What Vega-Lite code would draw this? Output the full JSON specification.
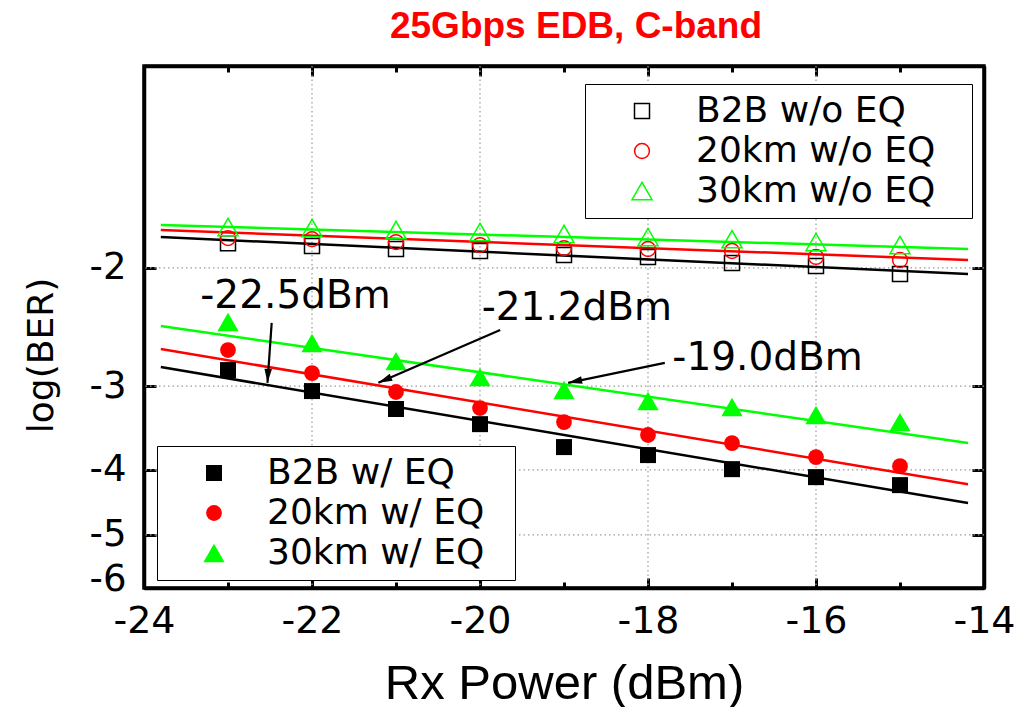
{
  "$schema": "https://vega.github.io/schema/vega-lite/v6.json",
  "width": 840,
  "height": 522,
  "autosize": {"type": "none"},
  "padding": {"left": 144, "top": 66, "right": 38, "bottom": 119},
  "background": "white",
  "title": {"text": "25Gbps EDB, C-band", "font": "Liberation Sans", "fontSize": 37, "fontWeight": "bold", "color": "#ff0000", "baseline": "alphabetic", "offset": -10, "dx": 12, "anchor": "middle", "frame": "group"},
  "config": {
    "view": {"stroke": "black", "strokeWidth": 3.5},
    "axis": {"labelColor": "black", "titleColor": "black", "tickColor": "black", "domainColor": "black"}
  },
  "datasets": {
    "without_eq": [
      {"power": -23, "neg_log_ber": 1.837, "series": "B2B w/o EQ"},
      {"power": -22, "neg_log_ber": 1.855, "series": "B2B w/o EQ"},
      {"power": -21, "neg_log_ber": 1.874, "series": "B2B w/o EQ"},
      {"power": -20, "neg_log_ber": 1.887, "series": "B2B w/o EQ"},
      {"power": -19, "neg_log_ber": 1.913, "series": "B2B w/o EQ"},
      {"power": -18, "neg_log_ber": 1.926, "series": "B2B w/o EQ"},
      {"power": -17, "neg_log_ber": 1.966, "series": "B2B w/o EQ"},
      {"power": -16, "neg_log_ber": 1.987, "series": "B2B w/o EQ"},
      {"power": -15, "neg_log_ber": 2.042, "series": "B2B w/o EQ"},
      {"power": -23, "neg_log_ber": 1.805, "series": "20km w/o EQ"},
      {"power": -22, "neg_log_ber": 1.812, "series": "20km w/o EQ"},
      {"power": -21, "neg_log_ber": 1.830, "series": "20km w/o EQ"},
      {"power": -20, "neg_log_ber": 1.849, "series": "20km w/o EQ"},
      {"power": -19, "neg_log_ber": 1.868, "series": "20km w/o EQ"},
      {"power": -18, "neg_log_ber": 1.874, "series": "20km w/o EQ"},
      {"power": -17, "neg_log_ber": 1.887, "series": "20km w/o EQ"},
      {"power": -16, "neg_log_ber": 1.926, "series": "20km w/o EQ"},
      {"power": -15, "neg_log_ber": 1.946, "series": "20km w/o EQ"},
      {"power": -23, "neg_log_ber": 1.738, "series": "30km w/o EQ"},
      {"power": -22, "neg_log_ber": 1.744, "series": "30km w/o EQ"},
      {"power": -21, "neg_log_ber": 1.756, "series": "30km w/o EQ"},
      {"power": -20, "neg_log_ber": 1.768, "series": "30km w/o EQ"},
      {"power": -19, "neg_log_ber": 1.780, "series": "30km w/o EQ"},
      {"power": -18, "neg_log_ber": 1.799, "series": "30km w/o EQ"},
      {"power": -17, "neg_log_ber": 1.812, "series": "30km w/o EQ"},
      {"power": -16, "neg_log_ber": 1.830, "series": "30km w/o EQ"},
      {"power": -15, "neg_log_ber": 1.849, "series": "30km w/o EQ"}
    ],
    "with_eq": [
      {"power": -23, "neg_log_ber": 2.840, "series": "B2B w/ EQ"},
      {"power": -22, "neg_log_ber": 3.052, "series": "B2B w/ EQ"},
      {"power": -21, "neg_log_ber": 3.246, "series": "B2B w/ EQ"},
      {"power": -20, "neg_log_ber": 3.419, "series": "B2B w/ EQ"},
      {"power": -19, "neg_log_ber": 3.699, "series": "B2B w/ EQ"},
      {"power": -18, "neg_log_ber": 3.802, "series": "B2B w/ EQ"},
      {"power": -17, "neg_log_ber": 3.990, "series": "B2B w/ EQ"},
      {"power": -16, "neg_log_ber": 4.101, "series": "B2B w/ EQ"},
      {"power": -15, "neg_log_ber": 4.215, "series": "B2B w/ EQ"},
      {"power": -23, "neg_log_ber": 2.651, "series": "20km w/ EQ"},
      {"power": -22, "neg_log_ber": 2.869, "series": "20km w/ EQ"},
      {"power": -21, "neg_log_ber": 3.062, "series": "20km w/ EQ"},
      {"power": -20, "neg_log_ber": 3.235, "series": "20km w/ EQ"},
      {"power": -19, "neg_log_ber": 3.395, "series": "20km w/ EQ"},
      {"power": -18, "neg_log_ber": 3.549, "series": "20km w/ EQ"},
      {"power": -17, "neg_log_ber": 3.648, "series": "20km w/ EQ"},
      {"power": -16, "neg_log_ber": 3.828, "series": "20km w/ EQ"},
      {"power": -15, "neg_log_ber": 3.949, "series": "20km w/ EQ"},
      {"power": -23, "neg_log_ber": 2.408, "series": "30km w/ EQ"},
      {"power": -22, "neg_log_ber": 2.588, "series": "30km w/ EQ"},
      {"power": -21, "neg_log_ber": 2.754, "series": "30km w/ EQ"},
      {"power": -20, "neg_log_ber": 2.909, "series": "30km w/ EQ"},
      {"power": -19, "neg_log_ber": 3.041, "series": "30km w/ EQ"},
      {"power": -18, "neg_log_ber": 3.158, "series": "30km w/ EQ"},
      {"power": -17, "neg_log_ber": 3.224, "series": "30km w/ EQ"},
      {"power": -16, "neg_log_ber": 3.313, "series": "30km w/ EQ"},
      {"power": -15, "neg_log_ber": 3.395, "series": "30km w/ EQ"}
    ],
    "fits": [
      {"power": -23.8, "neg_log_ber": 1.799, "series": "B2B w/o EQ"},
      {"power": -14.19, "neg_log_ber": 2.042, "series": "B2B w/o EQ"},
      {"power": -23.8, "neg_log_ber": 1.756, "series": "20km w/o EQ"},
      {"power": -14.19, "neg_log_ber": 1.946, "series": "20km w/o EQ"},
      {"power": -23.8, "neg_log_ber": 1.726, "series": "30km w/o EQ"},
      {"power": -14.19, "neg_log_ber": 1.874, "series": "30km w/o EQ"},
      {"power": -23.8, "neg_log_ber": 2.811, "series": "B2B w/ EQ"},
      {"power": -14.19, "neg_log_ber": 4.482, "series": "B2B w/ EQ"},
      {"power": -23.8, "neg_log_ber": 2.642, "series": "20km w/ EQ"},
      {"power": -14.19, "neg_log_ber": 4.201, "series": "20km w/ EQ"},
      {"power": -23.8, "neg_log_ber": 2.441, "series": "30km w/ EQ"},
      {"power": -14.19, "neg_log_ber": 3.648, "series": "30km w/ EQ"}
    ],
    "arrows": [
      {"label": "-22.5dBm", "x_start": -22.48, "y_start": 2.415, "x_end": -22.53, "y_end": 2.967},
      {"label": "-21.2dBm", "x_start": -19.76, "y_start": 2.474, "x_end": -21.21, "y_end": 2.967},
      {"label": "-19.0dBm", "x_start": -17.80, "y_start": 2.77, "x_end": -18.95, "y_end": 2.967}
    ],
    "notes": [
      {"text": "-22.5dBm", "power": -23.33, "neg_log_ber": 2.296},
      {"text": "-21.2dBm", "power": -19.98, "neg_log_ber": 2.391},
      {"text": "-19.0dBm", "power": -17.71, "neg_log_ber": 2.840}
    ],
    "x_grid": [{"power": -22}, {"power": -20}, {"power": -18}, {"power": -16}],
    "y_grid": [{"neg_log_ber": 2}, {"neg_log_ber": 3}, {"neg_log_ber": 4}, {"neg_log_ber": 5}]
  },
  "layer": [
    {
      "data": {"name": "fits"},
      "mark": {"type": "point", "opacity": 0},
      "encoding": {
        "x": {"field": "power", "type": "quantitative", "scale": {"domain": [-24, -14], "nice": false, "zero": false},
          "axis": {"orient": "bottom", "values": [-24, -23, -22, -21, -20, -19, -18, -17, -16, -15, -14], "labelExpr": "datum.value % 2 === 0 ? '-' + abs(datum.value) : ''", "labels": true, "labelFlush": false, "labelFont": "DejaVu Sans", "labelFontSize": 38, "labelBaseline": "alphabetic", "labelPadding": 54, "ticks": true, "tickSize": {"condition": {"test": "datum.value % 2 === 0", "value": -10}, "value": -6}, "tickWidth": 3, "domain": true, "domainWidth": 3.5, "grid": false, "title": "Rx Power (dBm)", "titleFont": "Liberation Sans", "titleFontSize": 49, "titleFontWeight": "normal", "titleBaseline": "alphabetic", "titleY": 110}},
        "y": {"field": "neg_log_ber", "type": "quantitative", "scale": {"type": "log", "domain": [1, 6], "nice": false, "reverse": true},
          "axis": {"orient": "left", "values": [2, 3, 4, 5, 6], "labelExpr": "'-' + datum.value", "labelFont": "DejaVu Sans", "labelFontSize": 37, "labelPadding": 30, "labelFlush": true, "labelFlushOffset": 10, "ticks": true, "tickSize": -12, "tickWidth": 3, "domain": true, "domainWidth": 3.5, "grid": false, "title": "log(BER)", "titleFont": "DejaVu Sans", "titleFontSize": 36, "titleFontWeight": "normal", "titleBaseline": "alphabetic", "titleX": -92, "titleY": 289, "titleAngle": 270}}
      }
    },
    {
      "layer": [
        {
          "data": {"name": "x_grid"},
          "mark": {"type": "rule", "color": "#9a9a9a", "strokeWidth": 1.2, "strokeDash": [1.5, 3]},
          "encoding": {
            "x": {"field": "power", "type": "quantitative", "scale": {"domain": [-24, -14], "nice": false, "zero": false}, "axis": null}
          }
        },
        {
          "data": {"name": "y_grid"},
          "mark": {"type": "rule", "color": "#9a9a9a", "strokeWidth": 1.2, "strokeDash": [1.5, 3]},
          "encoding": {
            "y": {"field": "neg_log_ber", "type": "quantitative", "scale": {"type": "log", "domain": [1, 6], "nice": false, "reverse": true}, "axis": null}
          }
        },
        {
          "data": {"name": "fits"},
          "mark": {"type": "line", "strokeWidth": 2.5},
          "encoding": {
            "x": {"field": "power", "type": "quantitative", "scale": {"domain": [-24, -14], "nice": false, "zero": false}, "axis": null},
            "y": {"field": "neg_log_ber", "type": "quantitative", "scale": {"type": "log", "domain": [1, 6], "nice": false, "reverse": true}, "axis": null},
            "color": {"field": "series", "type": "nominal", "scale": {"domain": ["B2B w/o EQ", "20km w/o EQ", "30km w/o EQ", "B2B w/ EQ", "20km w/ EQ", "30km w/ EQ"], "range": ["#000000", "#ff0000", "#00ff00", "#000000", "#ff0000", "#00ff00"]}, "legend": null}
          }
        },
        {
          "data": {"name": "without_eq"},
          "mark": {"type": "point", "filled": false, "strokeWidth": 1.5, "opacity": 1},
          "encoding": {
            "x": {"field": "power", "type": "quantitative", "scale": {"domain": [-24, -14], "nice": false, "zero": false}, "axis": null},
            "y": {"field": "neg_log_ber", "type": "quantitative", "scale": {"type": "log", "domain": [1, 6], "nice": false, "reverse": true}, "axis": null},
            "shape": {"field": "series", "type": "nominal", "scale": {"domain": ["B2B w/o EQ", "20km w/o EQ", "30km w/o EQ"], "range": ["square", "circle", "triangle-up"]},
              "legend": {"orient": "none", "legendX": 441, "legendY": 18, "title": " ", "titleOrient": "right", "titlePadding": 28, "titleFontSize": 12, "padding": 9, "strokeColor": "black", "fillColor": "white", "labelFont": "DejaVu Sans", "labelFontSize": 36, "labelColor": "black", "labelLimit": 400, "rowPadding": 4, "symbolOffset": 30, "labelOffset": 36, "symbolStrokeWidth": 1.5}},
            "color": {"field": "series", "type": "nominal", "scale": {"domain": ["B2B w/o EQ", "20km w/o EQ", "30km w/o EQ"], "range": ["#000000", "#ff0000", "#00ff00"]},
              "legend": {"orient": "none", "legendX": 441, "legendY": 18, "title": " ", "titleOrient": "right", "titlePadding": 28, "titleFontSize": 12, "padding": 9, "strokeColor": "black", "fillColor": "white", "labelFont": "DejaVu Sans", "labelFontSize": 36, "labelColor": "black", "labelLimit": 400, "rowPadding": 4, "symbolOffset": 30, "labelOffset": 36, "symbolStrokeWidth": 1.5}},
            "size": {"field": "series", "type": "nominal", "scale": {"type": "ordinal", "domain": ["B2B w/o EQ", "20km w/o EQ", "30km w/o EQ"], "range": [225, 220, 400]},
              "legend": {"orient": "none", "legendX": 441, "legendY": 18, "title": " ", "titleOrient": "right", "titlePadding": 28, "titleFontSize": 12, "padding": 9, "strokeColor": "black", "fillColor": "white", "labelFont": "DejaVu Sans", "labelFontSize": 36, "labelColor": "black", "labelLimit": 400, "rowPadding": 4, "symbolOffset": 30, "labelOffset": 36, "symbolStrokeWidth": 1.5}}
          }
        },
        {
          "data": {"name": "with_eq"},
          "mark": {"type": "point", "filled": true, "opacity": 1},
          "encoding": {
            "x": {"field": "power", "type": "quantitative", "scale": {"domain": [-24, -14], "nice": false, "zero": false}, "axis": null},
            "y": {"field": "neg_log_ber", "type": "quantitative", "scale": {"type": "log", "domain": [1, 6], "nice": false, "reverse": true}, "axis": null},
            "shape": {"field": "series", "type": "nominal", "scale": {"domain": ["B2B w/ EQ", "20km w/ EQ", "30km w/ EQ"], "range": ["square", "circle", "triangle-up"]},
              "legend": {"orient": "none", "legendX": 13, "legendY": 380, "title": " ", "titleOrient": "right", "titlePadding": 22, "titleFontSize": 12, "padding": 9, "strokeColor": "black", "fillColor": "white", "labelFont": "DejaVu Sans", "labelFontSize": 36, "labelColor": "black", "labelLimit": 400, "rowPadding": 4, "symbolOffset": 30, "labelOffset": 35}},
            "color": {"field": "series", "type": "nominal", "scale": {"domain": ["B2B w/ EQ", "20km w/ EQ", "30km w/ EQ"], "range": ["#000000", "#ff0000", "#00ff00"]},
              "legend": {"orient": "none", "legendX": 13, "legendY": 380, "title": " ", "titleOrient": "right", "titlePadding": 22, "titleFontSize": 12, "padding": 9, "strokeColor": "black", "fillColor": "white", "labelFont": "DejaVu Sans", "labelFontSize": 36, "labelColor": "black", "labelLimit": 400, "rowPadding": 4, "symbolOffset": 30, "labelOffset": 35}},
            "size": {"field": "series", "type": "nominal", "scale": {"type": "ordinal", "domain": ["B2B w/ EQ", "20km w/ EQ", "30km w/ EQ"], "range": [256, 250, 450]},
              "legend": {"orient": "none", "legendX": 13, "legendY": 380, "title": " ", "titleOrient": "right", "titlePadding": 22, "titleFontSize": 12, "padding": 9, "strokeColor": "black", "fillColor": "white", "labelFont": "DejaVu Sans", "labelFontSize": 36, "labelColor": "black", "labelLimit": 400, "rowPadding": 4, "symbolOffset": 30, "labelOffset": 35}}
          }
        },
        {
          "data": {"name": "arrows"},
          "mark": {"type": "rule", "color": "black", "strokeWidth": 2.2},
          "encoding": {
            "x": {"field": "x_start", "type": "quantitative", "scale": {"domain": [-24, -14], "nice": false, "zero": false}, "axis": null},
            "x2": {"field": "x_end"},
            "y": {"field": "y_start", "type": "quantitative", "scale": {"type": "log", "domain": [1, 6], "nice": false, "reverse": true}, "axis": null},
            "y2": {"field": "y_end"}
          }
        },
        {
          "data": {"name": "notes"},
          "mark": {"type": "text", "align": "left", "baseline": "alphabetic", "font": "DejaVu Sans", "fontSize": 39, "color": "black"},
          "encoding": {
            "x": {"field": "power", "type": "quantitative", "scale": {"domain": [-24, -14], "nice": false, "zero": false}, "axis": null},
            "y": {"field": "neg_log_ber", "type": "quantitative", "scale": {"type": "log", "domain": [1, 6], "nice": false, "reverse": true}, "axis": null},
            "text": {"field": "text", "type": "nominal"}
          }
        },
        {
          "data": {"name": "arrows"},
          "transform": [{"filter": "datum.label === '-22.5dBm'"}],
          "mark": {"type": "point", "shape": "M0,0L-0.35,1.3L0.35,1.3Z", "filled": true, "color": "black", "opacity": 1, "size": 460, "angle": 183},
          "encoding": {
            "x": {"field": "x_end", "type": "quantitative", "scale": {"domain": [-24, -14], "nice": false, "zero": false}, "axis": null},
            "y": {"field": "y_end", "type": "quantitative", "scale": {"type": "log", "domain": [1, 6], "nice": false, "reverse": true}, "axis": null}
          }
        },
        {
          "data": {"name": "arrows"},
          "transform": [{"filter": "datum.label === '-21.2dBm'"}],
          "mark": {"type": "point", "shape": "M0,0L-0.35,1.3L0.35,1.3Z", "filled": true, "color": "black", "opacity": 1, "size": 460, "angle": 246.5},
          "encoding": {
            "x": {"field": "x_end", "type": "quantitative", "scale": {"domain": [-24, -14], "nice": false, "zero": false}, "axis": null},
            "y": {"field": "y_end", "type": "quantitative", "scale": {"type": "log", "domain": [1, 6], "nice": false, "reverse": true}, "axis": null}
          }
        },
        {
          "data": {"name": "arrows"},
          "transform": [{"filter": "datum.label === '-19.0dBm'"}],
          "mark": {"type": "point", "shape": "M0,0L-0.35,1.3L0.35,1.3Z", "filled": true, "color": "black", "opacity": 1, "size": 460, "angle": 258.4},
          "encoding": {
            "x": {"field": "x_end", "type": "quantitative", "scale": {"domain": [-24, -14], "nice": false, "zero": false}, "axis": null},
            "y": {"field": "y_end", "type": "quantitative", "scale": {"type": "log", "domain": [1, 6], "nice": false, "reverse": true}, "axis": null}
          }
        }
      ],
      "resolve": {"scale": {"color": "independent", "shape": "independent", "size": "independent"}}
    },
    {
      "data": {"name": "fits"},
      "mark": {"type": "point", "opacity": 0},
      "encoding": {
        "x": {"field": "power", "type": "quantitative", "scale": {"domain": [-24, -14], "nice": false, "zero": false},
          "axis": {"orient": "top", "values": [-24, -23, -22, -21, -20, -19, -18, -17, -16, -15, -14], "labels": false, "ticks": true, "tickSize": {"condition": {"test": "datum.value % 2 === 0", "value": -10}, "value": -6}, "tickWidth": 3, "domain": true, "domainWidth": 3.5, "grid": false, "title": null}},
        "y": {"field": "neg_log_ber", "type": "quantitative", "scale": {"type": "log", "domain": [1, 6], "nice": false, "reverse": true},
          "axis": {"orient": "right", "values": [2, 3, 4, 5], "labels": false, "ticks": true, "tickSize": -12, "tickWidth": 3, "domain": true, "domainWidth": 3.5, "grid": false, "title": null}}
      }
    }
  ],
  "resolve": {
    "scale": {"x": "independent", "y": "independent", "color": "independent", "shape": "independent", "size": "independent"},
    "axis": {"x": "independent", "y": "independent"}
  }
}
